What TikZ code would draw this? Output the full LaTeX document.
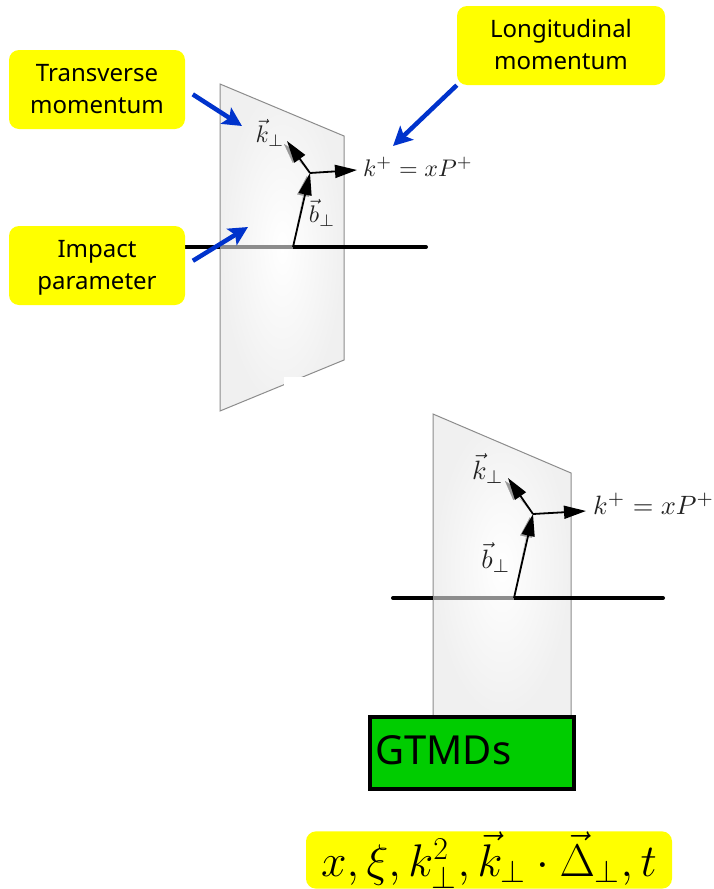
\documentclass[tikz,border=0pt]{standalone}
\usepackage{fontspec}
\usepackage{amsmath,amssymb}
\setmainfont{Noto Sans}
\usetikzlibrary{arrows.meta,positioning}
\definecolor{Amarillo}{HTML}{FFFF00}
\definecolor{Verde}{HTML}{00CC00}
\definecolor{Azul}{HTML}{0033CC}
\definecolor{Tinta}{HTML}{222222}
\newcommand{\notestrut}{\rule{0pt}{26pt}}
\begin{document}
\begin{tikzpicture}[
  x=1pt,y=-1pt,
  note/.style={fill=Amarillo,rounded corners=10pt,align=center,inner sep=0pt,
    font=\fontsize{24}{32}\selectfont},
  plane/.style={draw=black!45,line width=1pt,inner color=white,outer color=black!6},
  axis/.style={line width=4pt,line cap=round},
  hidden/.style={line width=4pt,black!45},
  vec/.style={-{Triangle[length=22pt,width=13pt]},line width=1.8pt},
  vecshade/.style={-{Triangle[length=20pt,width=12pt]},line width=0.2pt,black!40},
  pointer/.style={-{Stealth[length=19pt,width=19pt,inset=4pt]},Azul,line width=4.5pt},
  lab/.style={text=Tinta,inner sep=0pt}
]
  \useasboundingbox (0,0) rectangle (714,889);

  % Upper plane.
  \coordinate (left1) at (220,247);
  \coordinate (start1) at (185,247);
  \coordinate (stop1) at (426,247);
  \coordinate (base1) at (293,247);
  \coordinate (apex1) at (310,173);
  \coordinate (kperp1) at (287,141);
  \coordinate (kplus1) at (357,170);
  \coordinate (apexshade1) at (307,176);
  \coordinate (kperpshade1) at (284,144);
  \path[plane] (220,84) -- (344,136) -- (344,360) -- (220,411) -- cycle;
  \draw[axis] (start1) -- (left1);
  \draw[axis] (base1) -- (stop1);
  \draw[hidden] (left1) -- (base1);
  \fill[white] (284,377) rectangle (305,392);
  \draw[vecshade] (base1) -- (apexshade1);
  \draw[vecshade] (apex1) -- (kperpshade1);
  \draw[vec] (base1) -- (apex1);
  \draw[vec] (apex1) -- (kperp1);
  \draw[vec] (apex1) -- (kplus1);
  \node[lab] (klabel1) at (270,133) {\scalebox{2.4}{$\vec{k}_\perp$}};
  \node[lab] (blabel1) at (322,213) {\scalebox{2.4}{$\vec{b}_\perp$}};
  \node[lab,anchor=west] (pluslabel1) at (363,167) {\scalebox{2.4}{$k^+=xP^+$}};

  % Lower plane.
  \coordinate (left2) at (433,598);
  \coordinate (start2) at (393,598);
  \coordinate (stop2) at (663,598);
  \coordinate (base2) at (514,598);
  \coordinate (apex2) at (533,514);
  \coordinate (kperp2) at (508,478);
  \coordinate (kplus2) at (586,511);
  \coordinate (apexshade2) at (530,517);
  \coordinate (kperpshade2) at (505,481);
  \path[plane] (433,414) -- (571,473) -- (571,720) -- (433,720) -- cycle;
  \draw[axis] (start2) -- (left2);
  \draw[axis] (base2) -- (stop2);
  \draw[hidden] (left2) -- (base2);
  \draw[vecshade] (base2) -- (apexshade2);
  \draw[vecshade] (apex2) -- (kperpshade2);
  \draw[vec] (base2) -- (apex2);
  \draw[vec] (apex2) -- (kperp2);
  \draw[vec] (apex2) -- (kplus2);
  \node[lab] (klabel2) at (488,469) {\scalebox{2.65}{$\vec{k}_\perp$}};
  \node[lab] (blabel2) at (496,558) {\scalebox{2.65}{$\vec{b}_\perp$}};
  \node[lab,anchor=west] (pluslabel2) at (593,504) {\scalebox{2.65}{$k^+=xP^+$}};

  % Yellow notes and their pointers.
  \node[note,minimum width=176pt,minimum height=79pt] (transverse) at (97,89.5)
    {\notestrut Transverse\\\strut momentum};
  \node[note,minimum width=176pt,minimum height=79pt] (impact) at (97,265.5)
    {\notestrut Impact\\\strut parameter};
  \node[note,minimum width=208pt,minimum height=79pt] (longitudinal) at (561,45.5)
    {\notestrut Longitudinal\\\strut momentum};
  \coordinate (transversetip) at (242,126);
  \coordinate (impacttip) at (248,227);
  \coordinate (longitudinaltip) at (393,146);
  \draw[pointer,shorten <=9pt] (transverse.east) -- (transversetip);
  \draw[pointer,shorten <=9pt] (impact.east) -- (impacttip);
  \draw[pointer] (longitudinal.south west) -- (longitudinaltip);

  \node[draw=black,line width=4pt,fill=Verde,minimum width=204pt,minimum height=72pt,
    inner sep=0pt,outer sep=0pt] (gtmds) at (472,753) {};
  \node[anchor=west,inner sep=0pt,font=\fontsize{40}{46}\selectfont] (gtmdstext) at (375,750) {GTMDs};
  \node[note,minimum width=366pt,minimum height=56pt] (vars) at (489,860)
    {\scalebox{1.84}{$x,\xi,k_\perp^2,\vec{k}_\perp\cdot\vec{\Delta}_\perp,t$}};
\end{tikzpicture}
\end{document}
